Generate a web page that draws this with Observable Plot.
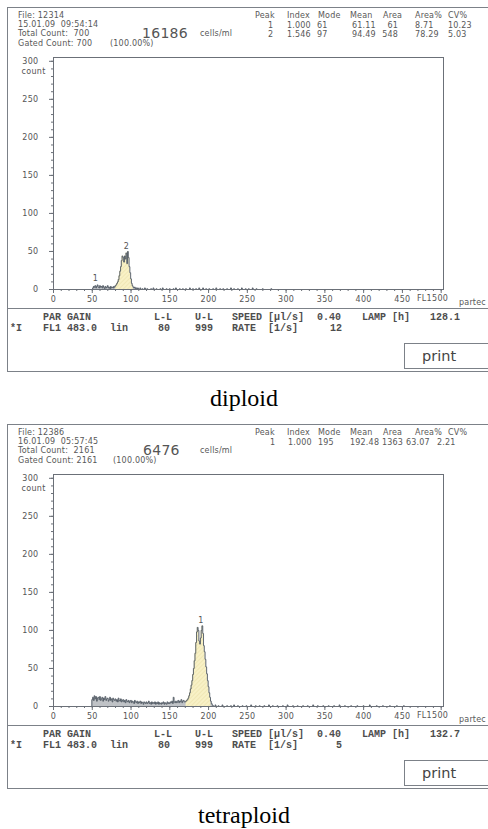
<!DOCTYPE html>
<html><head><meta charset="utf-8">
<script src="https://cdn.jsdelivr.net/npm/d3@7"></script>
<script src="https://cdn.jsdelivr.net/npm/@observablehq/plot@0.6"></script>
<style>
body{margin:0;background:#fff;overflow:hidden;}
#root{position:relative;width:488px;height:829px;overflow:hidden;background:#fff;}
.panel{position:absolute;left:0;width:488px;height:417px;}
.t{position:absolute;white-space:pre;line-height:1;color:#585858;font-family:"DejaVu Sans",sans-serif;font-size:8px;letter-spacing:0.2px;transform:translateY(-50%);}
.t.end{transform:translate(-100%,-50%);}
.m{font-family:"Liberation Mono",monospace;font-weight:bold;font-size:10px;letter-spacing:0;color:#4d4d4d;}
.big{font-size:14px;letter-spacing:0.3px;color:#555;}
.pr{font-size:14.5px;letter-spacing:0;color:#444;}
.box{position:absolute;border:1px solid #7c8188;}
.hl{position:absolute;height:0;border-top:1px solid #7c8188;}
.cap{position:absolute;left:0;width:488px;text-align:center;font-family:"Liberation Serif",serif;font-size:24px;line-height:1;color:#000;}
.plotwrap{position:absolute;left:0;top:0;}
.plotwrap svg text{letter-spacing:0.3px;}
</style></head><body><div id="root"></div>
<script>
// ---------- data: diploid ----------
const dipCoreStart = 50;
const dipCore = [0,2,4,3,5,2,4,6,3,2, 5,3,4,2,5,3,1,4,2,3, 5,2,3,1,4,2,3,2,4,3,
                 5,6,8,10,13,18,24,30,38,44, 42,36,44,40,48,34,50,42,30,22,
                 14,8,5,3,2,3,1,2,1,2];
const dipTailCh = [112,115,118,121,126,129,133,138,141,146,150,155,158,163,167,171,176,180,184,188,193,197,201,206,210,215,219,224,229,233,238,243,248,252,257,262,270,281];
const dipTailN  = [2,1,2,1,1,2,1,1,2,1,1,1,2,1,1,1,2,1,1,2,2,1,1,1,2,1,1,1,2,1,1,2,1,1,2,1,1,1];
const dipGate = [80, 103];
const dipPeakText = ["1","2"];
const dipPeakCh = [54, 94];
const dipPeakN = [14, 57];

// ---------- data: tetraploid ----------
const tetNoiseStart = 50;
const tetNoise = [9,12,8,14,10,13,7,11,12,9, 13,8,10,12,7,11,9,13,8,10,
                  11,7,9,12,8,10,6,11,9,8, 10,7,9,6,11,8,7,10,6,8,
                  9,6,8,5,9,7,6,8,5,7, 8,5,7,6,4,8,6,5,7,4,
                  6,5,7,4,6,5,3,6,5,4, 6,4,5,7,4,5,3,6,4,5,
                  4,6,3,5,4,6,3,5,4,3, 5,4,6,3,5,4,3,6,4,5,
                  4,6,5,7,4,12,6,5,7,5, 6,8,5,7,6,9,5,7,8,6];
const tetPeakStart = 170;
const tetPeak = [6,7,8,9,11,14,18,23,28,34, 42,50,60,70,84,98,104,100,86,82,
                 90,100,106,96,80,72,62,52,43,34, 26,18,12,7,4,2,1];
const tetTailCh = [209,213,218,224,229,233,238,244,249,255,261,266,272,278,283,289,296,302,309,315,322,328,335,341,348,355,362,369,376,384,392,400,408,417,425,434,443,452];
const tetTailN  = [2,1,2,1,1,2,1,1,1,2,1,1,1,2,1,1,1,2,1,1,1,1,2,1,1,1,1,2,1,1,1,1,2,1,1,1,1,1];
const tetGate = [171, 203];
const tetPeakText = ["1"];
const tetPeakCh = [190];
const tetPeakN = [113];

// ---------- axes ----------
const xMajor = [0,50,100,150,200,250,300,350,400,450,500];
const xMinor = d3.range(0, 501, 10);
const yMajor = [0,50,100,150,200,250,300];
const yMinor = d3.range(0, 301, 10);
const xEndLabel = "FL1500";
const yUnit = "count";

// ---------- header texts ----------
const dipHeader = ["File: 12314", "15.01.09  09:54:14", "Total Count:  700", "Gated Count: 700"];
const tetHeader = ["File: 12386", "16.01.09  05:57:45", "Total Count:  2161", "Gated Count: 2161"];
const dipConc = "16186";
const tetConc = "6476";
const concUnit = "cells/ml";
const gatedPct = "(100.00%)";
const statCols = ["Peak","Index","Mode","Mean","Area","Area%","CV%"];
const dipStats = [["1","1.000","61","61.11","61","8.71","10.23"],
                  ["2","1.546","97","94.49","548","78.29","5.03"]];
const tetStats = [["1","1.000","195","192.48","1363","63.07","2.21"]];
const dipLamp = "128.1", tetLamp = "132.7";
const dipRate = "12", tetRate = "5";
const captions = ["diploid", "tetraploid"];

function rowsFrom(parts) {
  const n = new Array(504).fill(0);
  for (const [start, vals] of parts.seq) vals.forEach((v, i) => n[start + i] = v);
  parts.tailCh.forEach((c, i) => n[c] = parts.tailN[i]);
  return d3.range(504).map(ch => ({ch, n: n[ch]}));
}

function histPlot(rows, gate, labels, hatchId) {
  const fillRows = rows.filter(r => r.ch >= gate[0] && r.ch <= gate[1]);
  const stroke = "#6b7078";
  const svg = Plot.plot({
    width: 488, height: 312,
    marginLeft: 53, marginRight: 45, marginTop: 57, marginBottom: 23,
    x: {domain: [0, 503], label: null},
    y: {domain: [0, 305], label: null},
    style: {fontFamily: "DejaVu Sans, sans-serif", fontSize: "8px", color: "#555", background: "transparent", overflow: "visible"},
    marks: [
      Plot.areaY(rows, {x: "ch", y: "n", curve: "step", fill: "#8a9098", fillOpacity: 0.55}),
      Plot.areaY(fillRows, {x: "ch", y: "n", curve: "step", fill: `url(#${hatchId})`}),
      Plot.lineY(rows, {x: "ch", y: "n", curve: "step", stroke: "#4f5862", strokeWidth: 0.9}),
      Plot.frame({stroke}),
      Plot.axisY({ticks: yMajor, tickSize: 4, tickPadding: 11, stroke, label: null}),
      Plot.axisY({ticks: yMinor, tickSize: 2, tickFormat: () => "", stroke, label: null}),
      Plot.axisX({ticks: xMajor, tickSize: 4, tickPadding: 3, stroke, label: null, tickFormat: d => d === 500 ? "" : d}),
      Plot.axisX({ticks: xMinor, tickSize: 2, tickFormat: () => "", stroke, label: null}),
      Plot.text([xEndLabel], {frameAnchor: "bottom", x: () => 500, dx: 7, dy: 11, textAnchor: "end", text: d => d, fill: "#555"}),
      Plot.text([yUnit], {frameAnchor: "top-left", dx: -32, dy: 11, textAnchor: "start", text: d => d, fill: "#555"}),
      Plot.text(labels, {x: "ch", y: "n", text: "t", fill: "#555", fontSize: 8})
    ]
  });
  const ns = "http://www.w3.org/2000/svg";
  const defs = document.createElementNS(ns, "defs");
  defs.innerHTML = `<pattern id="${hatchId}" patternUnits="userSpaceOnUse" width="3" height="3" patternTransform="rotate(45)">
    <rect width="3" height="3" fill="#f8f1c6"/><line x1="0" y1="0" x2="0" y2="3" stroke="#e4d89c" stroke-width="0.8"/></pattern>`;
  svg.insertBefore(defs, svg.firstChild);
  return svg;
}

const root = document.getElementById("root");
function el(parent, cls, css, text) {
  const d = document.createElement("div");
  d.className = cls;
  Object.assign(d.style, css);
  if (text != null) d.textContent = text;
  parent.appendChild(d);
  return d;
}
function txt(p, s, x, y, extra = "", end = false) {
  return el(p, "t " + extra + (end ? " end" : ""), {left: x + "px", top: y + "px"}, s);
}

function panel(top, cfg) {
  const p = el(root, "panel", {top: top + "px"});
  el(p, "box", {left: "7px", top: "7px", width: "530px", height: "363px"});
  el(p, "hl", {left: "7px", top: "308px", width: "520px"});
  const wrap = el(p, "plotwrap", {});
  wrap.appendChild(histPlot(cfg.rows, cfg.gate, cfg.labels, cfg.hatch));
  // header
  const hy = [16, 24.5, 34, 43.5];
  cfg.header.forEach((s, i) => txt(p, s, 18, hy[i]));
  txt(p, cfg.conc, cfg.concX, 33, "big");
  txt(p, concUnit, 200, 34);
  txt(p, gatedPct, cfg.pctX, 43.5);
  const colX = [255, 287, 318, 350, 383, 415, 448];
  statCols.forEach((s, i) => txt(p, s, colX[i], 16));
  cfg.stats.forEach((row, r) => row.forEach((s, i) => {
    const pos = cfg.statPos[i];
    txt(p, s, pos[0], 25.5 + r * 9, "", pos[1]);
  }));
  // bottom table
  const r1 = 317.5, r2 = 329;
  txt(p, "PAR GAIN", 43, r1, "m");
  txt(p, "L-L", 154, r1, "m");
  txt(p, "U-L", 195, r1, "m");
  txt(p, "SPEED [\u00b5l/s]", 232, r1, "m");
  txt(p, "0.40", 317, r1, "m");
  txt(p, "LAMP [h]", 362, r1, "m");
  txt(p, cfg.lamp, 430, r1, "m");
  txt(p, "*I", 10, r2, "m");
  txt(p, "FL1 483.0", 43, r2, "m");
  txt(p, "lin", 110, r2, "m");
  txt(p, "80", 158, r2, "m");
  txt(p, "999", 195, r2, "m");
  txt(p, "RATE  [1/s]", 232, r2, "m");
  txt(p, cfg.rate, 342, r2, "m", true);
  txt(p, "partec", 459, 302.5);
  el(p, "box", {left: "404px", top: "343px", width: "120px", height: "24px"});
  txt(p, "print", 422, 355.5, "pr");
  el(p, "cap", {top: "386px"}, cfg.caption);
}

const dipRows = rowsFrom({seq: [[dipCoreStart, dipCore]], tailCh: dipTailCh, tailN: dipTailN});
const tetRows = rowsFrom({seq: [[tetNoiseStart, tetNoise], [tetPeakStart, tetPeak]], tailCh: tetTailCh, tailN: tetTailN});

panel(0, {
  rows: dipRows, gate: dipGate, hatch: "hatchA",
  labels: dipPeakText.map((t, i) => ({t, ch: dipPeakCh[i], n: dipPeakN[i]})),
  header: dipHeader, conc: dipConc, concX: 142, pctX: 110,
  stats: dipStats,
  statPos: [[268, false], [287, false], [317, false], [352, false], [398, true], [415, false], [448, false]],
  lamp: dipLamp, rate: dipRate, caption: captions[0]
});
panel(417, {
  rows: tetRows, gate: tetGate, hatch: "hatchB",
  labels: tetPeakText.map((t, i) => ({t, ch: tetPeakCh[i], n: tetPeakN[i]})),
  header: tetHeader, conc: tetConc, concX: 143, pctX: 113,
  stats: tetStats,
  statPos: [[270, false], [288, false], [318, false], [350, false], [382, false], [406, false], [437, false]],
  lamp: tetLamp, rate: tetRate, caption: captions[1]
});
</script></body></html>
